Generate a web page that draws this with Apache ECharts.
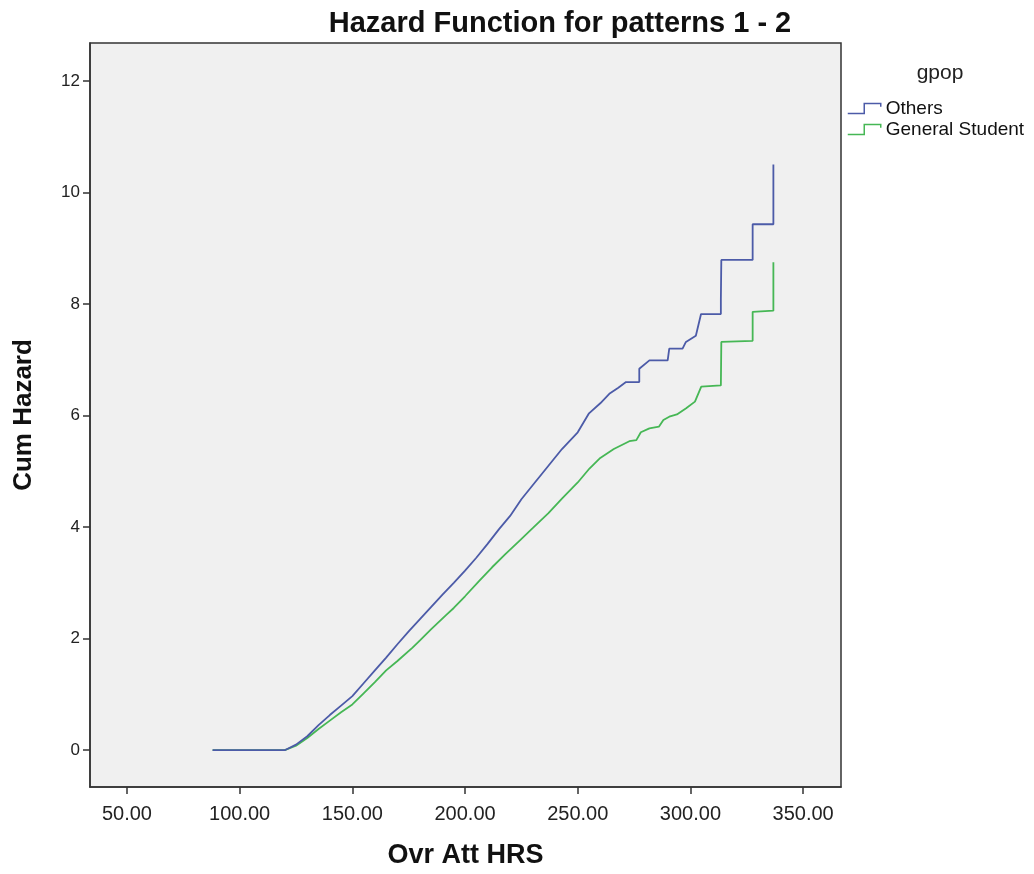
<!DOCTYPE html>
<html>
<head>
<meta charset="utf-8">
<script src="https://cdn.jsdelivr.net/npm/echarts@6/dist/echarts.min.js"></script>
<style>html,body{margin:0;padding:0;background:#fff}#c{width:1034px;height:874px}</style>
</head>
<body>
<div id="c"></div>
<script>
const titleText = 'Hazard Function for patterns 1 - 2';
const xTitle = 'Ovr Att HRS';
const yTitle = 'Cum Hazard';
const legendTitle = 'gpop';
const seriesNames = ['Others', 'General Student'];
const xTicks = [50, 100, 150, 200, 250, 300, 350];
const yTicks = [0, 2, 4, 6, 8, 10, 12];

// Others: [Ovr Att HRS, Cum Hazard]
const othersData = [
  [88,0],[120,0],[125,0.1],[130,0.25],[135,0.45],[140,0.63],[145,0.8],[150,0.97],
  [155,1.2],[160,1.43],[165,1.66],[170,1.9],[175,2.13],[180,2.35],[185,2.57],[190,2.79],
  [195,3.0],[200,3.22],[205,3.45],[210,3.7],[215,3.96],[220,4.2],[225,4.5],[230,4.75],
  [237,5.1],[243,5.4],[250,5.7],[255,6.04],[260,6.22],[264,6.39],[268,6.5],[271.4,6.6],
  [277.3,6.6],[277.3,6.84],[281.8,6.99],[289.9,6.99],[290.6,7.2],[296.5,7.2],[298,7.32],
  [302.4,7.43],[304.7,7.82],[313.5,7.82],[313.5,8.09],[313.7,8.79],[327.6,8.79],
  [327.6,9.43],[336.8,9.43],[336.8,10.5]
];
// General Student
const generalData = [
  [88,0],[120,0],[125,0.08],[130,0.22],[135,0.38],[140,0.53],[145,0.68],[150,0.82],
  [155,1.02],[160,1.22],[165,1.43],[170,1.6],[176.7,1.84],[180,1.97],[185,2.17],[191.8,2.43],
  [195,2.55],[200,2.76],[206.4,3.04],[212,3.28],[218,3.52],[224,3.75],[230,3.98],[237,4.25],
  [243.2,4.52],[250,4.8],[255.2,5.05],[260,5.24],[266,5.4],[272.9,5.54],[276,5.56],[278,5.7],
  [281.8,5.77],[286,5.8],[288,5.92],[290.6,5.98],[294,6.02],[298.1,6.13],[302,6.25],
  [304.8,6.52],[313.5,6.54],[313.7,7.32],[327.6,7.34],[327.6,7.86],[336.8,7.88],[336.8,8.75]
];

const colors = ['#4c5ba8', '#46b755'];
const font = '"Liberation Sans", Arial, sans-serif';
const stepIcon = 'path://M0,11 L15,11 L15,2 L30,2 L30,5';

const chart = echarts.init(document.getElementById('c'), null, {renderer: 'canvas'});
chart.setOption({
  animation: false,
  backgroundColor: '#ffffff',
  title: [
    {text: titleText, left: 555, top: 4, textAlign: 'center',
     textStyle: {fontFamily: font, fontWeight: 'bold', fontSize: 29, color: '#111'}},
    {text: legendTitle, left: 935, top: 58, textAlign: 'center',
     textStyle: {fontFamily: font, fontWeight: 'normal', fontSize: 21, color: '#222'}}
  ],
  legend: {
    orient: 'vertical', left: 847, top: 99, padding: 0, itemWidth: 33, itemGap: 2, itemHeight: 11,
    textStyle: {fontFamily: font, fontSize: 19, lineHeight: 19, color: '#111'},
    data: seriesNames.map((n, i) => ({
      name: n, icon: stepIcon,
      itemStyle: {color: 'transparent', borderColor: colors[i], borderWidth: 1.5}
    }))
  },
  grid: {left: 90, top: 43, right: 193, bottom: 84, show: true,
         backgroundColor: '#f0f0f0', borderColor: '#333', borderWidth: 1.5},
  xAxis: {
    type: 'value', min: 33.6, max: 366.8,
    name: xTitle, nameLocation: 'middle', nameGap: 55,
    nameTextStyle: {fontFamily: font, fontWeight: 'bold', fontSize: 27, color: '#111'},
    axisLine: {show: true, onZero: false, lineStyle: {color: '#333', width: 1.5}},
    axisTick: {show: true, inside: false, length: 7, customValues: xTicks, lineStyle: {color: '#333', width: 1.5}},
    axisLabel: {customValues: xTicks, margin: 17, fontFamily: font, fontSize: 20, color: '#222',
                formatter: v => v.toFixed(2)},
    splitLine: {show: false}
  },
  yAxis: {
    type: 'value', min: -0.66, max: 12.68,
    name: yTitle, nameLocation: 'middle', nameGap: 53, nameRotate: 90,
    nameTextStyle: {fontFamily: font, fontWeight: 'bold', fontSize: 26, color: '#111'},
    axisLine: {show: true, onZero: false, lineStyle: {color: '#333', width: 1.5}},
    axisTick: {show: true, inside: false, length: 7, customValues: yTicks, lineStyle: {color: '#333', width: 1.5}},
    axisLabel: {customValues: yTicks, margin: 10, fontFamily: font, fontSize: 17, color: '#222'},
    splitLine: {show: false}
  },
  series: [
    {name: seriesNames[0], type: 'line', data: othersData, showSymbol: false,
     color: colors[0], lineStyle: {color: colors[0], width: 1.8}, z: 3},
    {name: seriesNames[1], type: 'line', data: generalData, showSymbol: false,
     color: colors[1], lineStyle: {color: colors[1], width: 1.8}, z: 2}
  ]
});
</script>
</body>
</html>
